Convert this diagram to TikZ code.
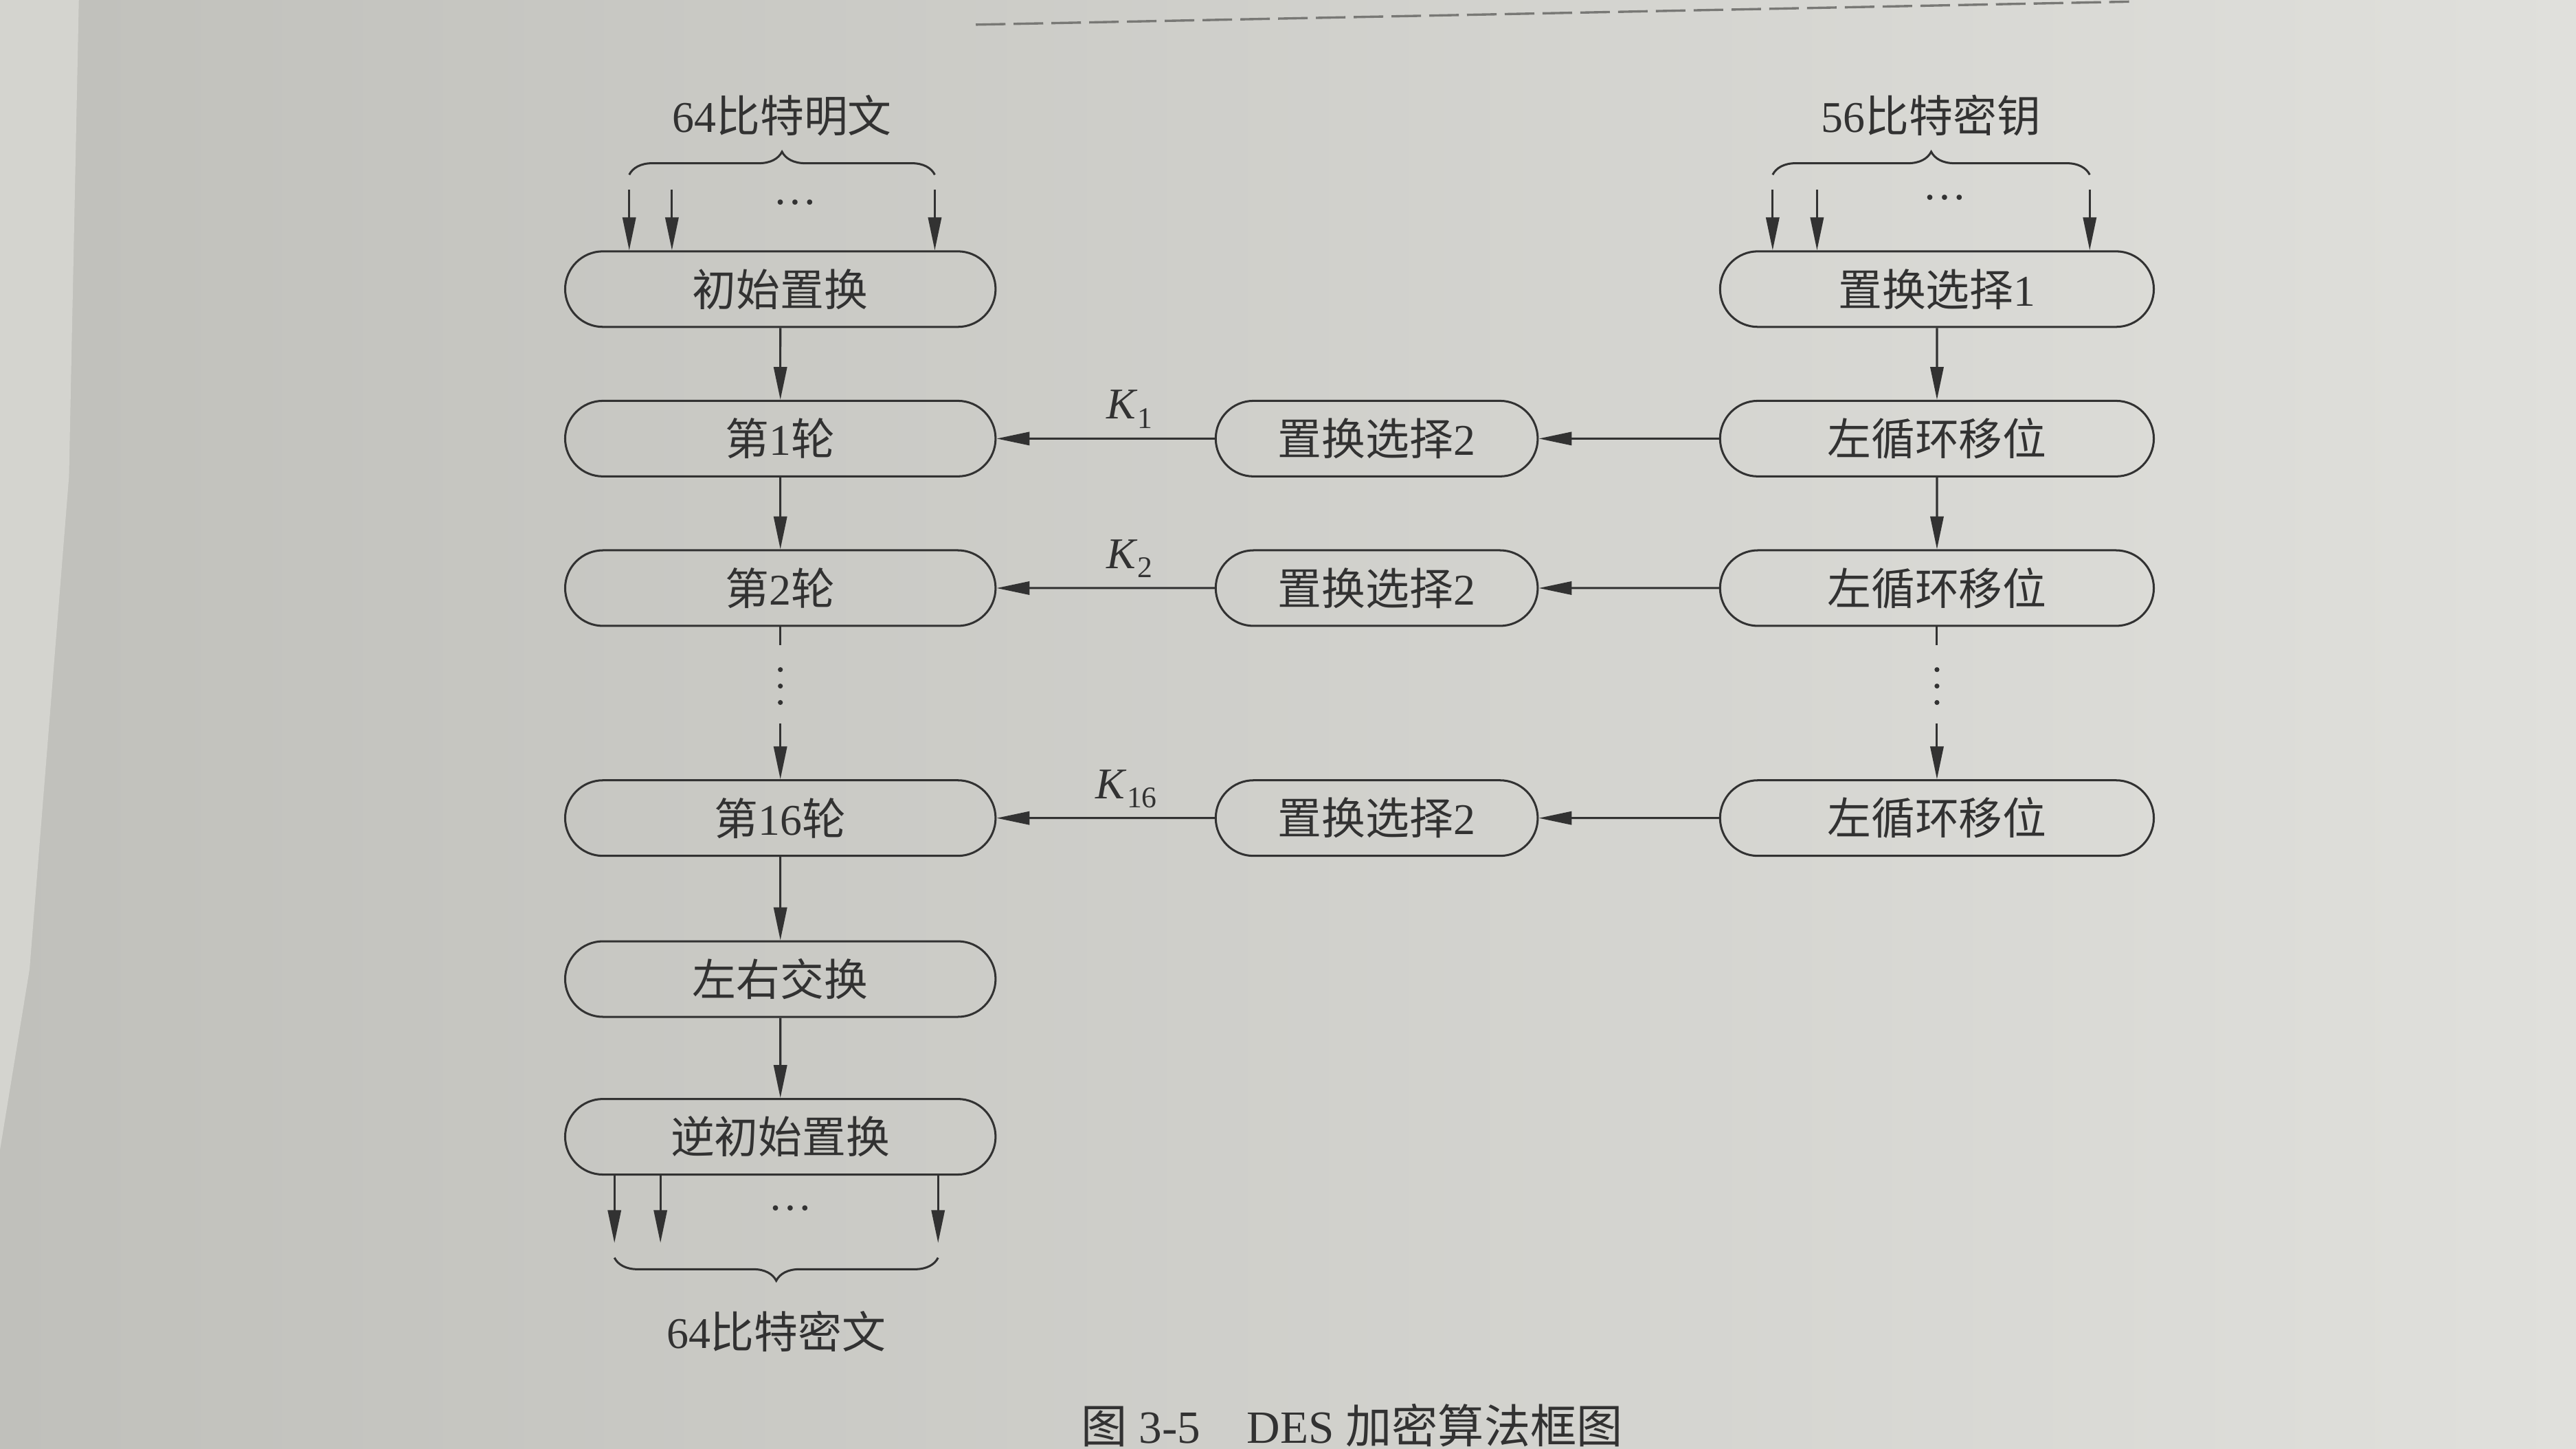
\documentclass[tikz,border=0pt]{standalone}
\usepackage{fontspec}
\setmainfont{Liberation Serif}
\newfontfamily\cjk{Noto Sans CJK SC}
\usetikzlibrary{shapes.misc, arrows.meta, positioning, calc, decorations.pathreplacing}
\definecolor{pageL}{RGB}{192,192,187}
\definecolor{pageR}{RGB}{224,224,220}
\definecolor{pageEdge}{RGB}{212,212,207}
\definecolor{ink}{RGB}{50,50,50}
\definecolor{rule}{RGB}{120,120,117}
\newcommand{\kname}[1]{\textit{K}\raisebox{-2.8mm}{\fontsize{26}{28}\selectfont #1}}

\begin{document}
\begin{tikzpicture}[x=0.5mm, y=-0.5mm,
    blk/.style={rounded rectangle, draw=ink, line width=1.8pt, minimum height=23mm, inner sep=0pt, text=ink, font=\fontsize{38}{44}\selectfont},
    lbox/.style={blk, minimum width=131mm},
    mbox/.style={blk, minimum width=98mm},
    rbox/.style={blk, minimum width=132mm},
    flow/.style={draw=ink, line width=1.8pt, -{Triangle[length=10mm, width=4mm]}},
    stub/.style={draw=ink, line width=1.8pt},
    brc/.style={draw=ink, line width=1.8pt, decorate, decoration={brace, amplitude=7mm}},
    txt/.style={text=ink, inner sep=0pt, font=\fontsize{38}{44}\selectfont},
    pnt/.style={circle, fill=ink, inner sep=0pt, minimum size=1.5mm}]

% page
\useasboundingbox (0,0) rectangle (1568,882);
\clip (0,0) rectangle (1568,882);
\shade[left color=pageL, right color=pageR] (0,0) rectangle (1568,882);
\fill[pageEdge] (0,0) -- (48,0) -- (42,290) -- (18,590) -- (0,700) -- cycle;
\draw[rule, line width=2pt, dash pattern=on 9mm off 2.5mm] (594,15) -- (1296,1);

% left column
\node[lbox] (ip) at (475,176) {\cjk 初始置换};
\node[lbox] (r1) at (475,267) {{\cjk 第}1{\cjk 轮}};
\node[lbox] (r2) at (475,358) {{\cjk 第}2{\cjk 轮}};
\node[lbox] (r16) at (475,498) {{\cjk 第}16{\cjk 轮}};
\node[lbox] (swap) at (475,596) {\cjk 左右交换};
\node[lbox] (iip) at (475,692) {\cjk 逆初始置换};

% key schedule
\node[mbox] (pcb1) at (838,267) {{\cjk 置换选择}2};
\node[mbox] (pcb2) at (838,358) {{\cjk 置换选择}2};
\node[mbox] (pcb16) at (838,498) {{\cjk 置换选择}2};
\node[rbox] (pc1) at (1179,176) {{\cjk 置换选择}1};
\node[rbox] (ls1) at (1179,267) {\cjk 左循环移位};
\node[rbox] (ls2) at (1179,358) {\cjk 左循环移位};
\node[rbox] (ls16) at (1179,498) {\cjk 左循环移位};

% plaintext input
\foreach \dx [count=\i] in {-46,-33,47} {
    \coordinate (pin\i) at ([xshift=\dx mm, yshift=18.5mm]ip.north);
    \draw[flow] (pin\i) -- (pin\i |- ip.north);
}
\draw[brc] ([yshift=4.5mm]pin1) -- node[txt, midway, yshift=18mm] (ptext) {64{\cjk 比特明文}} ([yshift=4.5mm]pin3);
\node[txt, anchor=base] (pdots) at ([xshift=4.5mm, yshift=14mm]ip.north) {\dots};

% key input
\foreach \dx [count=\i] in {-50,-36.5,46.5} {
    \coordinate (kin\i) at ([xshift=\dx mm, yshift=18.5mm]pc1.north);
    \draw[flow] (kin\i) -- (kin\i |- pc1.north);
}
\draw[brc] ([yshift=4.5mm]kin1) -- node[txt, midway, yshift=18mm] (ktext) {56{\cjk 比特密钥}} ([yshift=4.5mm]kin3);
\node[txt, anchor=base] (kdots) at ([xshift=2.5mm, yshift=15.5mm]pc1.north) {\dots};

% ciphertext output
\foreach \dx [count=\i] in {-50.5,-36.5,48} {
    \coordinate (cout\i) at ([xshift=\dx mm, yshift=-20.5mm]iip.south);
    \draw[flow] (cout\i |- iip.south) -- (cout\i);
}
\draw[brc] ([yshift=-4.5mm]cout3) -- node[txt, midway, yshift=-22.5mm] (ctext) {64{\cjk 比特密文}} ([yshift=-4.5mm]cout1);
\node[txt, anchor=base] (cdots) at ([xshift=3mm, yshift=-10.5mm]iip.south) {\dots};

% rounds
\draw[flow] (ip) -- (r1);
\draw[flow] (r1) -- (r2);
\draw[stub] (r2.south) -- ++(0,11);
\foreach \k [count=\j] in {13,18,23} \node[pnt] (rdot\j) at ([yshift=-\k mm]r2.south) {};
\coordinate (rgap) at ([yshift=17mm]r16.north);
\draw[flow] (rgap) -- (r16.north);
\draw[flow] (r16) -- (swap);
\draw[flow] (swap) -- (iip);

% shifts
\draw[flow] (pc1) -- (ls1);
\draw[flow] (ls1) -- (ls2);
\draw[stub] (ls2.south) -- ++(0,11);
\foreach \k [count=\j] in {13,18,23} \node[pnt] (ldot\j) at ([yshift=-\k mm]ls2.south) {};
\coordinate (lgap) at ([yshift=17mm]ls16.north);
\draw[flow] (lgap) -- (ls16.north);

% subkeys
\draw[flow] (ls1) -- (pcb1);
\draw[flow] (ls2) -- (pcb2);
\draw[flow] (ls16) -- (pcb16);
\draw[flow] (pcb1) -- node[txt, pos=0.5, anchor=base west, yshift=6mm] (k1) {\kname{1}} (r1);
\draw[flow] (pcb2) -- node[txt, pos=0.5, anchor=base west, yshift=6mm] (k2) {\kname{2}} (r2);
\draw[flow] (pcb16) -- node[txt, pos=0.55, anchor=base west, yshift=6mm] (k16) {\kname{16}} (r16);

% caption
\node[txt, font=\fontsize{40}{46}\selectfont, anchor=south] (cap) at (823,881) {{\cjk 图}\ 3-5\quad DES\ {\cjk 加密算法框图}};
\end{tikzpicture}
\end{document}
